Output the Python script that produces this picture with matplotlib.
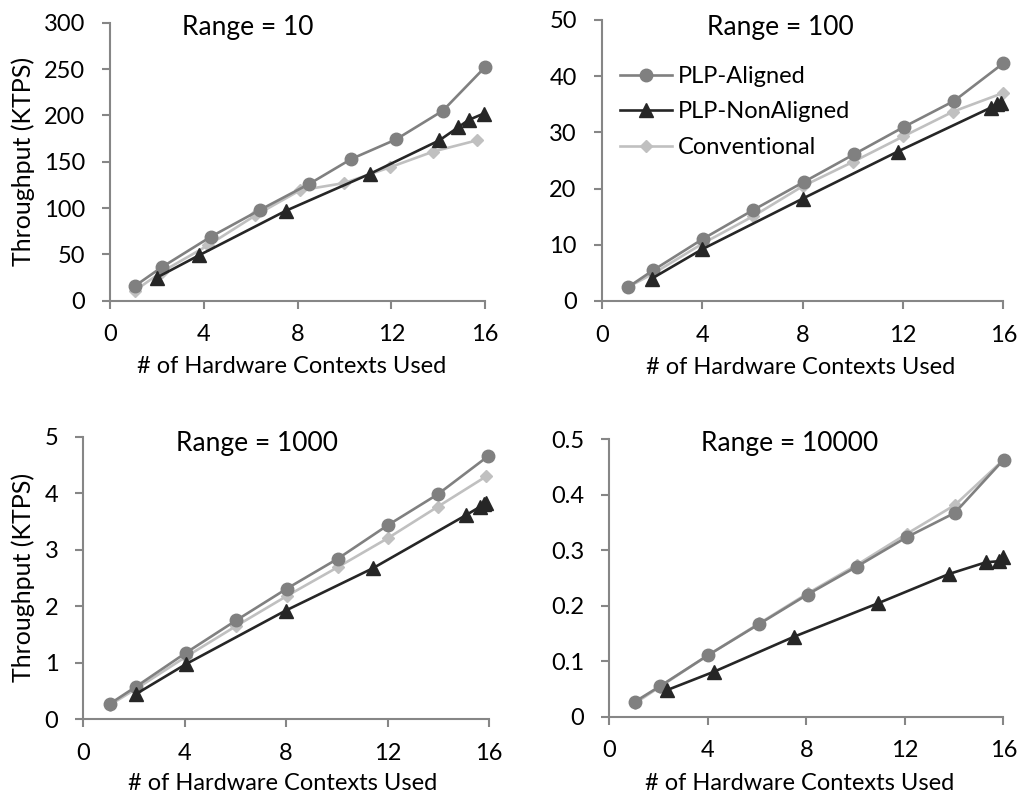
import matplotlib
matplotlib.use('Agg')
import matplotlib.pyplot as plt
from matplotlib.ticker import FuncFormatter

plt.rcParams['font.family'] = ['Lato', 'DejaVu Sans']
fs_title = 19
fs_xlab = 17
fs_ylab = 18
fs_leg = 17
fs_tick = 17

# ---- data ----
# Range = 10
r10_al_x = [1.07, 2.2, 4.3, 6.4, 8.5, 10.3, 12.2, 14.2, 16.0]
r10_al_y = [16, 36, 69, 98, 126, 153, 174, 205, 252]
r10_na_x = [2.0, 3.8, 7.5, 11.1, 14.05, 14.85, 15.3, 15.95]
r10_na_y = [25, 49, 97, 137, 173, 187, 195, 202]
r10_cv_x = [1.07, 2.2, 4.2, 6.2, 8.1, 10.0, 11.95, 13.8, 15.65]
r10_cv_y = [11, 31, 60, 92, 119, 127, 144, 161, 173]

# Range = 100
r100_al_x = [1.06, 2.06, 4.05, 6.04, 8.06, 10.05, 12.05, 14.04, 16.0]
r100_al_y = [2.5, 5.5, 11.1, 16.2, 21.2, 26.1, 31.0, 35.6, 42.3]
r100_na_x = [2.0, 4.0, 8.0, 11.8, 15.5, 15.75, 15.9]
r100_na_y = [4.0, 9.2, 18.2, 26.6, 34.4, 35.0, 35.3]
r100_cv_x = [1.06, 2.06, 4.05, 6.04, 8.0, 10.03, 12.02, 14.0, 15.98]
r100_cv_y = [2.5, 4.9, 10.3, 15.1, 20.4, 24.8, 29.3, 33.7, 37.0]

# Range = 1000
r1k_al_x = [1.05, 2.07, 4.04, 6.04, 8.03, 10.04, 12.0, 13.98, 15.95]
r1k_al_y = [0.27, 0.57, 1.17, 1.75, 2.31, 2.84, 3.43, 3.98, 4.65]
r1k_na_x = [2.07, 4.04, 7.98, 11.42, 15.09, 15.65, 15.8, 15.9]
r1k_na_y = [0.44, 0.97, 1.92, 2.67, 3.61, 3.76, 3.8, 3.82]
r1k_cv_x = [1.05, 2.07, 4.04, 6.04, 8.03, 10.04, 12.0, 13.98, 15.9]
r1k_cv_y = [0.25, 0.53, 1.1, 1.65, 2.18, 2.69, 3.2, 3.76, 4.3]

# Range = 10000
r10k_al_x = [1.04, 2.06, 4.02, 6.09, 8.05, 10.04, 12.07, 14.03, 16.02]
r10k_al_y = [0.027, 0.055, 0.111, 0.167, 0.220, 0.270, 0.323, 0.367, 0.463]
r10k_na_x = [2.35, 4.25, 7.5, 10.9, 13.8, 15.29, 15.83, 15.97]
r10k_na_y = [0.048, 0.081, 0.144, 0.204, 0.257, 0.278, 0.280, 0.287]
r10k_cv_x = [1.04, 2.06, 4.02, 6.09, 8.05, 10.04, 12.07, 14.03, 16.02]
r10k_cv_y = [0.024, 0.054, 0.111, 0.168, 0.222, 0.273, 0.329, 0.381, 0.463]

labels = ['PLP-Aligned', 'PLP-NonAligned', 'Conventional']
c_al = '#808080'
c_na = '#262626'
c_cv = '#c0c0c0'
spine_c = '#868686'

f = plt.figure(figsize=(10.22, 7.96), dpi=100)

# axes rectangles measured in pixels of the 1022x796 picture
ax1 = f.add_axes([110/1022, 1-300.7/796, 375/1022, 278/796])
ax2 = f.add_axes([601.7/1022, 1-301/796, 401.6/1022, 281/796])
ax3 = f.add_axes([83.3/1022, 1-719/796, 405.7/1022, 282.3/796])
ax4 = f.add_axes([609.3/1022, 1-716.7/796, 394/1022, 277.7/796])

# ax, series..., ymax, ystep, title, title pos, xlabel pos, ylabel x (None = no label)
panels = [
    (ax1, r10_al_x, r10_al_y, r10_na_x, r10_na_y, r10_cv_x, r10_cv_y, 300, 50,
     'Range = 10', (0.368, 0.981), (0.485, -0.238), -0.232),
    (ax2, r100_al_x, r100_al_y, r100_na_x, r100_na_y, r100_cv_x, r100_cv_y, 50, 10,
     'Range = 100', (0.444, 0.972), (0.496, -0.235), None),
    (ax3, r1k_al_x, r1k_al_y, r1k_na_x, r1k_na_y, r1k_cv_x, r1k_cv_y, 5, 1,
     'Range = 1000', (0.428, 0.977), (0.492, -0.227), -0.149),
    (ax4, r10k_al_x, r10k_al_y, r10k_na_x, r10k_na_y, r10k_cv_x, r10k_cv_y, 0.5, 0.1,
     'Range = 10000', (0.457, 0.985), (0.484, -0.239), None),
]

for ax, ax_, ay_, nx_, ny_, cx_, cy_, ymax, ystep, title, tpos, xlpos, ylx in panels:
    ax.plot(ax_, ay_, color=c_al, lw=1.9, marker='o', ms=9, mec=c_al, label=labels[0], zorder=3)
    ax.plot(nx_, ny_, color=c_na, lw=1.9, marker='^', ms=9.5, mec=c_na, label=labels[1], zorder=4)
    ax.plot(cx_, cy_, color=c_cv, lw=1.9, marker='D', ms=6.5, mec=c_cv, label=labels[2], zorder=2)
    ax.set_xlim(0, 16)
    ax.set_ylim(0, ymax)
    ax.set_xticks([0, 4, 8, 12, 16])
    n = int(round(ymax / ystep))
    ax.set_yticks([i * ystep for i in range(n + 1)])
    ax.yaxis.set_major_formatter(FuncFormatter(lambda v, p: f'{v:g}'))
    for s in ['top', 'right']:
        ax.spines[s].set_visible(False)
    for s in ['left', 'bottom']:
        ax.spines[s].set_color(spine_c)
        ax.spines[s].set_linewidth(1.5)
    ax.tick_params(axis='both', colors=spine_c, width=1.5, length=6, labelcolor='black', labelsize=fs_tick)
    ax.tick_params(axis='x', pad=11)
    ax.tick_params(axis='y', pad=12)
    ax.text(tpos[0], tpos[1], title, transform=ax.transAxes, ha='center', va='center', fontsize=fs_title)
    ax.text(xlpos[0], xlpos[1], '# of Hardware Contexts Used', transform=ax.transAxes,
            ha='center', va='center', fontsize=fs_xlab)
    if ylx is not None:
        ax.text(ylx, 0.5, 'Throughput (KTPS)', transform=ax.transAxes, rotation=90,
                ha='center', va='center', fontsize=fs_ylab)
    ax.patch.set_visible(False)
    for ln in ax.lines:
        ln.set_clip_on(False)

ax2.legend(loc='upper left', bbox_to_anchor=(0.046, 0.837), borderaxespad=0, borderpad=0,
           frameon=False, fontsize=fs_leg, handlelength=2.2, handletextpad=0.25, labelspacing=0.62)

f.savefig('out.png', dpi=100)
